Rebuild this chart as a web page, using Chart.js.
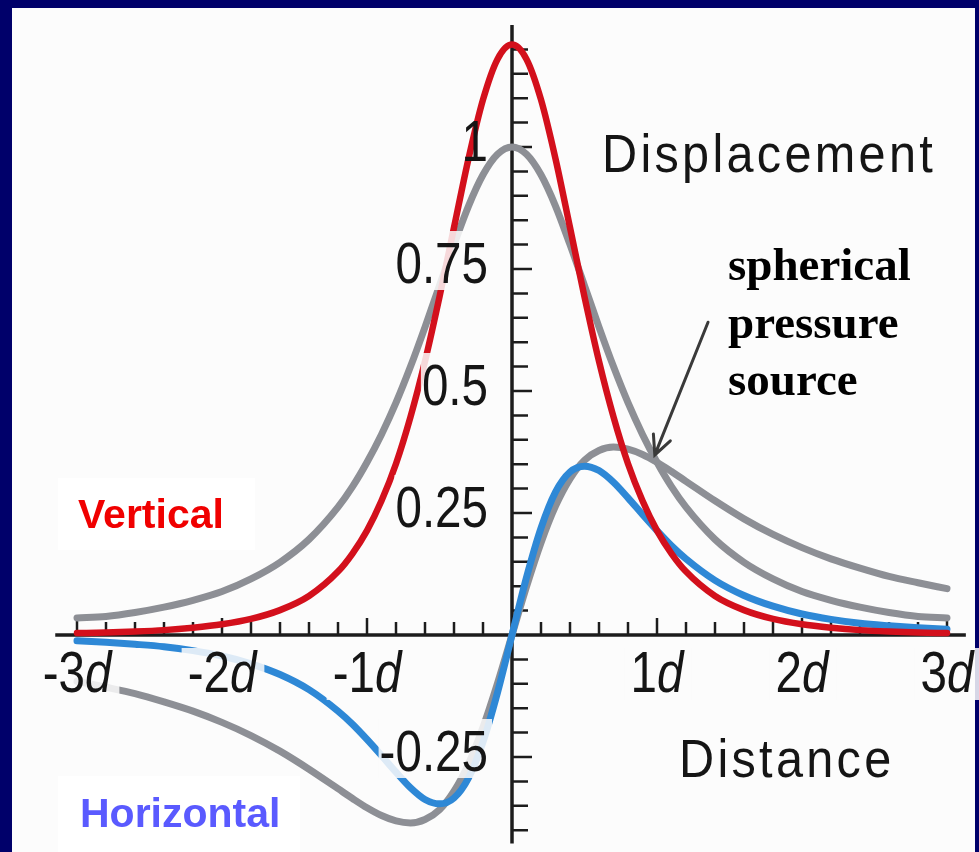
<!DOCTYPE html>
<html>
<head>
<meta charset="utf-8">
<title>Displacement vs distance</title>
<script src="https://cdn.jsdelivr.net/npm/chart.js@4.4.1/dist/chart.umd.min.js"></script>
<style>
  html, body { margin: 0; padding: 0; background: #00006a; overflow: hidden; }
  #plot { display: block; }
</style>
</head>
<body>
<canvas id="plot" width="979" height="852"></canvas>
<script>
// Distance from the source, in units of source depth d
const distance = [-3, -2.8, -2.6, -2.4, -2.2, -2, -1.8, -1.6, -1.4, -1.2, -1.1, -1, -0.9, -0.8, -0.7, -0.6, -0.5, -0.4, -0.3, -0.2, -0.1,
  0, 0.1, 0.2, 0.3, 0.4, 0.5, 0.6, 0.7, 0.8, 0.9, 1, 1.1, 1.2, 1.4, 1.6, 1.8, 2, 2.2, 2.4, 2.6, 2.8, 3];

// Spherical pressure source (grey): vertical and horizontal displacement
const sphereVertical = [0.035, 0.038, 0.046, 0.057, 0.071, 0.089, 0.115, 0.149, 0.196, 0.262, 0.304, 0.354, 0.411, 0.476, 0.550, 0.631, 0.716, 0.800, 0.879, 0.943, 0.985,
  1.000, 0.985, 0.943, 0.879, 0.800, 0.716, 0.631, 0.550, 0.476, 0.411, 0.354, 0.304, 0.262, 0.196, 0.149, 0.115, 0.089, 0.071, 0.057, 0.046, 0.038, 0.035];
const sphereHorizontal = [-0.095, -0.107, -0.120, -0.137, -0.156, -0.179, -0.206, -0.238, -0.275, -0.315, -0.335, -0.354, -0.370, -0.381, -0.385, -0.378, -0.358, -0.320, -0.264, -0.189, -0.099,
  0, 0.099, 0.189, 0.264, 0.320, 0.358, 0.378, 0.385, 0.381, 0.370, 0.354, 0.335, 0.315, 0.275, 0.238, 0.206, 0.179, 0.156, 0.137, 0.120, 0.107, 0.095];

// Vertical (red) and horizontal (blue) displacement curves
const verticalDisp = [0.004, 0.005, 0.007, 0.010, 0.015, 0.022, 0.033, 0.051, 0.080, 0.130, 0.167, 0.214, 0.275, 0.351, 0.447, 0.561, 0.693, 0.835, 0.976, 1.097, 1.180,
  1.210, 1.180, 1.097, 0.976, 0.835, 0.693, 0.561, 0.447, 0.351, 0.275, 0.214, 0.167, 0.130, 0.080, 0.051, 0.033, 0.022, 0.015, 0.010, 0.007, 0.005, 0.004];
const horizontalDisp = [-0.012, -0.015, -0.019, -0.024, -0.032, -0.043, -0.059, -0.081, -0.112, -0.156, -0.183, -0.214, -0.247, -0.281, -0.313, -0.337, -0.346, -0.334, -0.293, -0.219, -0.118,
  0, 0.118, 0.219, 0.293, 0.334, 0.346, 0.337, 0.313, 0.281, 0.247, 0.214, 0.183, 0.156, 0.112, 0.081, 0.059, 0.043, 0.032, 0.024, 0.019, 0.015, 0.012];

// Axis tick labels
const xLabelValues = [-3, -2, -1, 1, 2, 3];
const xLabelNumbers = ['-3', '-2', '-1', '1', '2', '3'];
const xLabelUnit = 'd';
const yLabelValues = [1, 0.75, 0.5, 0.25, -0.25];
const yLabelTexts = ['1', '0.75', '0.5', '0.25', '-0.25'];

const toPoints = ys => distance.map((x, i) => ({ x, y: ys[i] }));

const SANS = '"Liberation Sans", Arial, sans-serif';
const SQUEEZE = 0.82;        // horizontal squeeze for the condensed tick lettering
const TITLE_SQUEEZE = 0.9;   // squeeze for the axis titles
const PAPER = '#fcfcfc';

function charLayout(ctx, parts, size, spacing, squeeze) {
  const glyphs = [];
  parts.forEach(p => {
    ctx.font = (p.italic ? 'italic ' : '') + size + 'px ' + SANS;
    for (const ch of p.t) glyphs.push({ ch, italic: p.italic, w: ctx.measureText(ch).width * squeeze });
  });
  const total = glyphs.reduce((s, g) => s + g.w, 0) + spacing * (glyphs.length - 1);
  return { glyphs, total };
}

function drawCondensed(ctx, parts, x, y, size, align, spacing, squeeze, color) {
  const lay = charLayout(ctx, parts, size, spacing, squeeze);
  let left = x;
  if (align === 'center') left = x - lay.total / 2;
  else if (align === 'right') left = x - lay.total;
  ctx.save();
  ctx.fillStyle = color;
  ctx.textBaseline = 'alphabetic';
  ctx.textAlign = 'left';
  let cx = left;
  lay.glyphs.forEach(g => {
    ctx.font = (g.italic ? 'italic ' : '') + size + 'px ' + SANS;
    ctx.save();
    ctx.translate(cx, y);
    ctx.scale(squeeze, 1);
    ctx.fillText(g.ch, 0, 0);
    ctx.restore();
    cx += g.w + spacing;
  });
  ctx.restore();
  return { left, right: left + lay.total };
}

const decorations = {
  id: 'decorations',
  beforeDraw(chart) {
    const ctx = chart.ctx;
    ctx.save();
    ctx.fillStyle = '#00006a';
    ctx.fillRect(0, 0, chart.width, chart.height);
    ctx.fillStyle = PAPER;
    ctx.fillRect(12, 8, 963, 844);
    ctx.restore();
  },
  beforeDatasetsDraw(chart) {
    const ctx = chart.ctx;
    const sx = chart.scales.x, sy = chart.scales.y;
    const x0 = sx.getPixelForValue(0), y0 = sy.getPixelForValue(0);
    ctx.save();
    ctx.strokeStyle = '#1c1c1c';
    ctx.lineCap = 'butt';
    // axis lines
    ctx.lineWidth = 3.5;
    ctx.beginPath();
    ctx.moveTo(x0, sy.getPixelForValue(1.25));
    ctx.lineTo(x0, sy.getPixelForValue(-0.427));
    ctx.moveTo(sx.getPixelForValue(-3.15), y0);
    ctx.lineTo(sx.getPixelForValue(3.13), y0);
    ctx.stroke();
    // ticks on the distance axis, pointing up
    ctx.lineWidth = 2.5;
    ctx.beginPath();
    for (let i = -15; i <= 15; i++) {
      if (i === 0) continue;
      const px = sx.getPixelForValue(i / 5);
      const len = (i % 5 === 0) ? 17 : 13;
      ctx.moveTo(px, y0);
      ctx.lineTo(px, y0 - len);
    }
    // ticks on the displacement axis, pointing right
    for (let i = -8; i <= 24; i++) {
      if (i === 0) continue;
      const py = sy.getPixelForValue(i * 0.05);
      const len = (i % 5 === 0) ? 20 : 16;
      ctx.moveTo(x0, py);
      ctx.lineTo(x0 + len, py);
    }
    ctx.stroke();
    ctx.restore();
  },
  afterDatasetsDraw(chart) {
    const ctx = chart.ctx;
    const sx = chart.scales.x, sy = chart.scales.y;
    const x0 = sx.getPixelForValue(0), y0 = sy.getPixelForValue(0);
    const haze = 'rgba(252,252,252,0.85)';
    const ink = '#151515';

    // displacement tick labels
    yLabelValues.forEach((v, i) => {
      const base = sy.getPixelForValue(v) + 14;
      const parts = [{ t: yLabelTexts[i], italic: false }];
      const lay = charLayout(ctx, parts, 58, 0, SQUEEZE);
      const right = x0 - 24;
      if (yLabelTexts[i] !== '1') {
        ctx.fillStyle = haze;
        ctx.fillRect(right - lay.total - 1, base - 52, lay.total + 5, 59);
      }
      drawCondensed(ctx, parts, right, base, 58, 'right', 0, SQUEEZE, ink);
    });

    // distance tick labels, with italic unit
    xLabelValues.forEach((v, i) => {
      const cx = sx.getPixelForValue(v);
      const base = y0 + 57;
      const parts = [{ t: xLabelNumbers[i], italic: false }, { t: xLabelUnit, italic: true }];
      const lay = charLayout(ctx, parts, 58, 0, SQUEEZE);
      ctx.fillStyle = haze;
      ctx.fillRect(cx - lay.total / 2 - 6, base - 44, lay.total + 14, 52);
      drawCondensed(ctx, parts, cx, base, 58, 'center', 0, SQUEEZE, ink);
    });

    // axis titles
    drawCondensed(ctx, [{ t: 'Displacement', italic: false }], 602, 172, 54, 'left', 3.3, TITLE_SQUEEZE, ink);
    drawCondensed(ctx, [{ t: 'Distance', italic: false }], 679, 777, 54, 'left', 3.3, TITLE_SQUEEZE, ink);

    // series captions
    ctx.save();
    ctx.fillStyle = '#ffffff';
    ctx.fillRect(58, 478, 197, 72);
    ctx.fillRect(58, 776, 242, 76);
    ctx.font = 'bold 41px ' + SANS;
    ctx.textBaseline = 'alphabetic';
    ctx.fillStyle = '#f00000';
    ctx.fillText('Vertical', 78, 528);
    ctx.fillStyle = '#5a5aff';
    ctx.fillText('Horizontal', 80, 827);

    // source annotation
    ctx.fillStyle = '#000000';
    ctx.font = 'bold 47px "Liberation Serif", "Times New Roman", serif';
    ctx.fillText('spherical', 728, 280);
    ctx.fillText('pressure', 728, 338);
    ctx.fillText('source', 728, 395);

    // arrow to the grey curve
    const tx = sx.getPixelForValue(1.352), ty = sy.getPixelForValue(0.641);
    const hx = sx.getPixelForValue(0.985), hy = sy.getPixelForValue(0.369);
    ctx.strokeStyle = '#3a3a3a';
    ctx.lineWidth = 3;
    ctx.lineCap = 'round';
    ctx.beginPath();
    ctx.moveTo(tx, ty);
    ctx.lineTo(hx, hy);
    const ang = Math.atan2(ty - hy, tx - hx);
    const wing = 21, spread = 0.45;
    ctx.moveTo(hx + wing * Math.cos(ang - spread), hy + wing * Math.sin(ang - spread));
    ctx.lineTo(hx, hy);
    ctx.lineTo(hx + wing * Math.cos(ang + spread), hy + wing * Math.sin(ang + spread));
    ctx.stroke();
    ctx.restore();
  }
};

const lineStyle = (color, width) => ({
  borderColor: color,
  borderWidth: width,
  pointRadius: 0,
  fill: false,
  cubicInterpolationMode: 'monotone',
  borderCapStyle: 'round',
  borderJoinStyle: 'round',
  clip: false
});

new Chart(document.getElementById('plot'), {
  type: 'line',
  data: {
    datasets: [
      Object.assign({ label: 'Vertical', data: toPoints(verticalDisp) }, lineStyle('#d3101c', 6.5)),
      Object.assign({ label: 'Horizontal', data: toPoints(horizontalDisp) }, lineStyle('#2e88d6', 7)),
      Object.assign({ label: 'Spherical source, horizontal', data: toPoints(sphereHorizontal) }, lineStyle('#8d8f95', 7)),
      Object.assign({ label: 'Spherical source, vertical', data: toPoints(sphereVertical) }, lineStyle('#8d8f95', 7))
    ]
  },
  options: {
    responsive: false,
    devicePixelRatio: 1,
    animation: false,
    layout: { padding: { left: 77, right: 32, top: 25, bottom: 21.8 } },
    scales: {
      x: { type: 'linear', min: -3, max: 3, display: false },
      y: { type: 'linear', min: -0.4, max: 1.25, display: false }
    },
    plugins: {
      legend: { display: false },
      tooltip: { enabled: false }
    },
    events: []
  },
  plugins: [decorations]
});
</script>
</body>
</html>
